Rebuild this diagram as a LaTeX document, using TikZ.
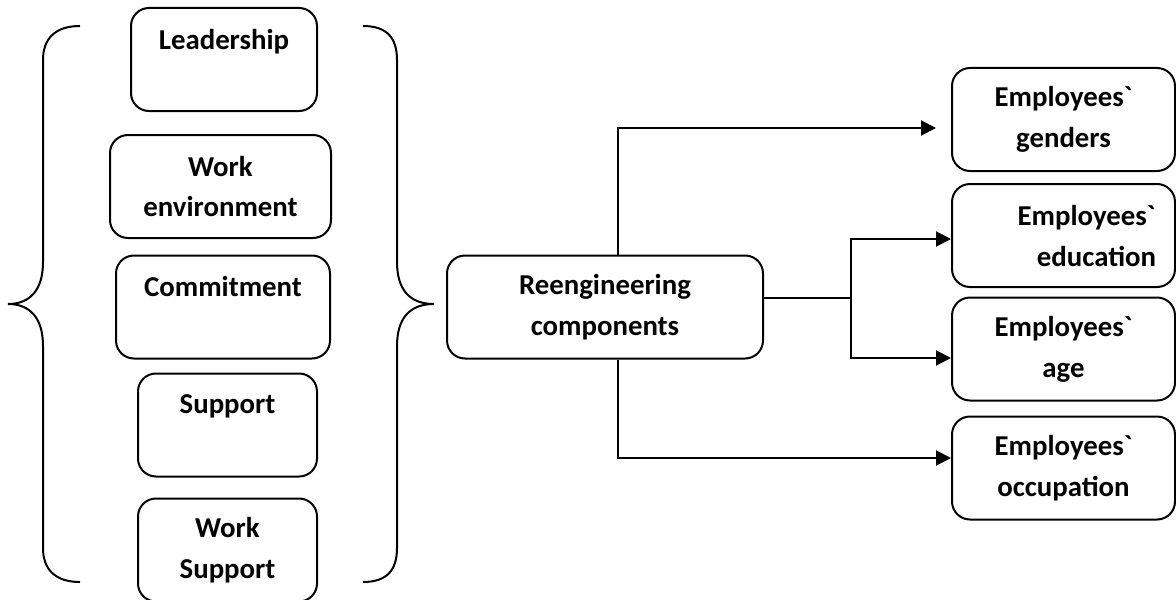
\documentclass[tikz,border=0pt]{standalone}
\usepackage{fontspec}
\newfontfamily\calib{Carlito}
\usetikzlibrary{arrows.meta}
\begin{document}
\begin{tikzpicture}[x=0.5pt,y=-0.5pt,
  every node/.style={font=\calib\bfseries\fontsize{14.4}{20.5}\selectfont},
  box/.style={draw,line width=1pt,rounded corners=9pt,align=center,inner sep=0pt,minimum height=51.5pt},
  brc/.style={draw,line width=1pt},
  conn/.style={draw,line width=1pt},
  arr/.style={conn,-{Triangle[length=7.5pt,width=7.5pt]}}]
\useasboundingbox (0,0) rectangle (1176,599);
% left group
\node[box,minimum width=93pt]   (L)  at (224,59.5)  {Leadership\\\mbox{}};
\node[box,minimum width=110.5pt](W)  at (220.5,186.5) {Work\\environment};
\node[box,minimum width=107pt]  (C)  at (223,307)   {Commitment\\\mbox{}};
\node[box,minimum width=89.5pt] (S)  at (227.5,425) {Support\\\mbox{}};
\node[box,minimum width=89.5pt] (WS) at (227.5,550) {Work\\Support};
% braces
\draw[brc] (80,26) .. controls (56,26) and (43,38) .. (43,60) -- (43,262)
  .. controls (43,290) and (30,304) .. (8,304)
  .. controls (30,304) and (43,318) .. (43,346) -- (43,548)
  .. controls (43,570) and (56,582) .. (80,582);
\draw[brc] (363,26) .. controls (387,26) and (397,38) .. (397,60) -- (397,262)
  .. controls (397,290) and (410,304) .. (434,304)
  .. controls (410,304) and (397,318) .. (397,346) -- (397,548)
  .. controls (397,570) and (387,582) .. (363,582);
% centre
\node[box,minimum width=158pt] (R) at (605,307) {Reengineering\\components};
% right group
\node[box,minimum width=111.5pt] (G) at (1063.5,119.5) {Employees`\\genders};
\node[box,minimum width=111.5pt] (E) at (1063.5,235.5) {\hspace*{23pt}Employees`\\\hspace*{33pt}education};
\node[box,minimum width=111.5pt] (A) at (1063.5,349)   {Employees`\\age};
\node[box,minimum width=111.5pt] (O) at (1063.5,468)   {Employees`\\occupation};
% connectors
\coordinate (jt) at (618,128);
\coordinate (jb) at (618,458);
\coordinate (sp) at (851,298);
\coordinate (ye) at (851,239);
\coordinate (ya) at (851,358);
\draw[arr,shorten >=7.5pt] (R.north -| jt) |- (G.west |- jt);
\draw[arr] (R.south -| jb) |- (O.west |- jb);
\draw[conn] (R.east |- sp) -- (sp);
\draw[arr] (sp) |- (E.west |- ye);
\draw[arr] (sp) |- (A.west |- ya);
\end{tikzpicture}
\end{document}
